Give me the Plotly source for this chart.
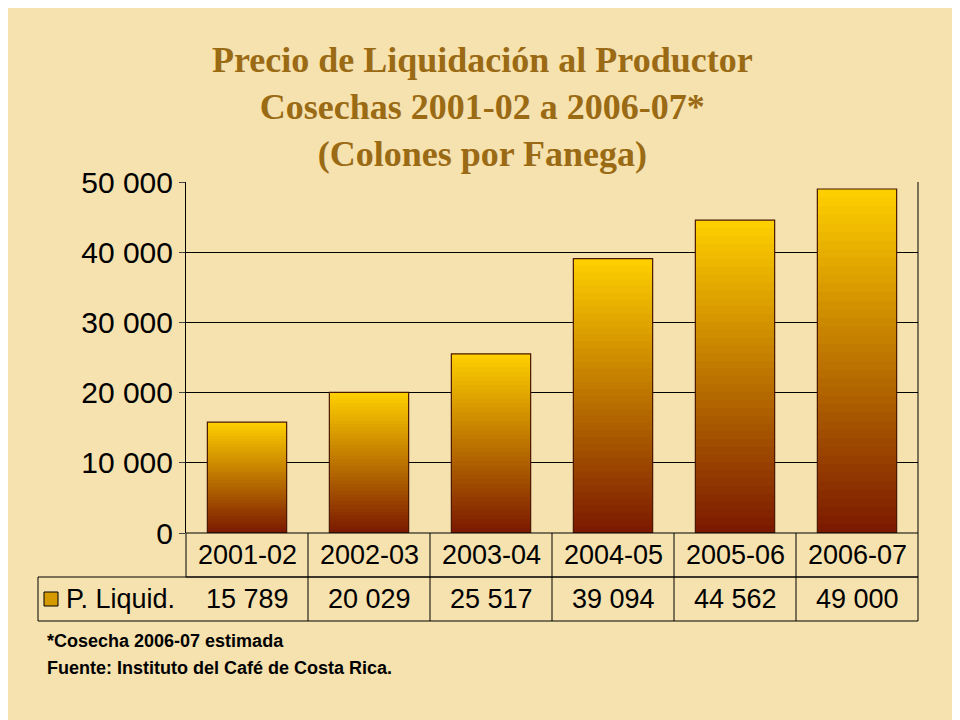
import plotly.graph_objects as go

# data
seasons = ["2001-02", "2002-03", "2003-04", "2004-05", "2005-06", "2006-07"]
prices = [15789, 20029, 25517, 39094, 44562, 49000]
value_labels = ["15 789", "20 029", "25 517", "39 094", "44 562", "49 000"]
y_ticks = [0, 10000, 20000, 30000, 40000, 50000]
y_tick_text = ["0", "10 000", "20 000", "30 000", "40 000", "50 000"]

W, H = 960, 720
OFF = 8  # page body margin shifts the figure
L, R, T, B = 186 - OFF, 42 + OFF, 182 - OFF, 187 + OFF
plot_w, plot_h = W - L - R, H - T - B


def mix(c1, c2, t):
    return "rgb(%d,%d,%d)" % tuple(round(a + (b - a) * t) for a, b in zip(c1, c2))


bottom_col = (122, 24, 0)
top_col = (255, 208, 0)
n_steps = 40

fig = go.Figure()
# gradient bars: stacked slices (slightly overlapping to hide seams)
for i in range(n_steps):
    h = 1.0 if i == n_steps - 1 else 1.6
    fig.add_trace(go.Bar(
        x=seasons,
        y=[v * h / n_steps for v in prices],
        base=[v * i / n_steps for v in prices],
        marker=dict(color=mix(bottom_col, top_col, (i + 0.5) / n_steps), line_width=0),
        width=0.65, showlegend=False, hoverinfo="skip",
    ))
# outline
fig.add_trace(go.Bar(
    x=seasons, y=prices, width=0.65, showlegend=False,
    marker=dict(color="rgba(0,0,0,0)", line=dict(color="#4a1800", width=1.2)),
))

fig.update_layout(
    width=W, height=H, barmode="overlay",
    margin=dict(l=L, r=R, t=T, b=B),
    paper_bgcolor="#F6E2AE", plot_bgcolor="rgba(0,0,0,0)",
    font=dict(family="Liberation Sans, Arial", color="black"),
    xaxis=dict(type="category", showticklabels=False, showgrid=False, zeroline=False,
               ticks="", range=[-0.5, 5.5]),
    yaxis=dict(range=[0, 50000], tickvals=y_ticks, ticktext=y_tick_text,
               showgrid=True, gridcolor="black", gridwidth=1, zeroline=False,
               showline=True, linecolor="black", ticks="outside", ticklen=6,
               tickfont=dict(size=30, family="Liberation Sans, Arial")),
)
fig.add_shape(type="line", xref="paper", yref="paper", x0=1, x1=1, y0=0, y1=1,
              line=dict(color="black", width=1))

# title as annotation
fig.add_annotation(
    xref="paper", yref="paper", x=(482 - OFF - L) / plot_w, y=(H - B - 38 + OFF) / plot_h,
    yanchor="top", showarrow=False,
    text="<b>Precio de Liquidación al Productor<br>Cosechas 2001-02 a 2006-07*<br>(Colones por Fanega)</b>",
    font=dict(family="Liberation Serif, Times New Roman", size=36, color="#9A6A14"),
)

# data table below the plot
row = 44 / plot_h
x_left = (38 - OFF - L) / plot_w
line = dict(color="black", width=1)
fig.add_shape(type="rect", xref="paper", yref="paper", x0=0, x1=1, y0=-row, y1=0, line=line)
fig.add_shape(type="rect", xref="paper", yref="paper", x0=x_left, x1=1, y0=-2 * row, y1=-row, line=line)
for k in range(1, len(seasons)):
    xk = k / len(seasons)
    fig.add_shape(type="line", xref="paper", yref="paper", x0=xk, x1=xk, y0=-2 * row, y1=0, line=line)

for s, lab in zip(seasons, value_labels):
    fig.add_annotation(x=s, xref="x", yref="paper", y=-row / 2, text=s, showarrow=False,
                       font=dict(size=27), yanchor="middle")
    fig.add_annotation(x=s, xref="x", yref="paper", y=-1.5 * row, text=lab, showarrow=False,
                       font=dict(size=27), yanchor="middle")

# legend key
kx = (44 - OFF - L) / plot_w
fig.add_shape(type="rect", xref="paper", yref="paper", x0=kx, x1=kx + 14 / plot_w,
              y0=-1.5 * row - 7 / plot_h, y1=-1.5 * row + 7 / plot_h,
              fillcolor="#D49A00", line=dict(color="black", width=1))
fig.add_annotation(x=(64 - OFF - L) / plot_w, xref="paper", yref="paper", y=-1.5 * row,
                   text="P. Liquid.", showarrow=False, xanchor="left", yanchor="middle",
                   font=dict(size=27))

# footnotes
for txt, ypx in [("*Cosecha 2006-07 estimada", 641),
                 ("Fuente: Instituto del Café de Costa Rica.", 668)]:
    fig.add_annotation(x=(45 - OFF - L) / plot_w, y=(H - B - ypx + OFF) / plot_h,
                       xref="paper", yref="paper",
                       showarrow=False, text="<b>%s</b>" % txt, xanchor="left",
                       yanchor="middle", font=dict(size=18))

fig.write_html("out.html")
